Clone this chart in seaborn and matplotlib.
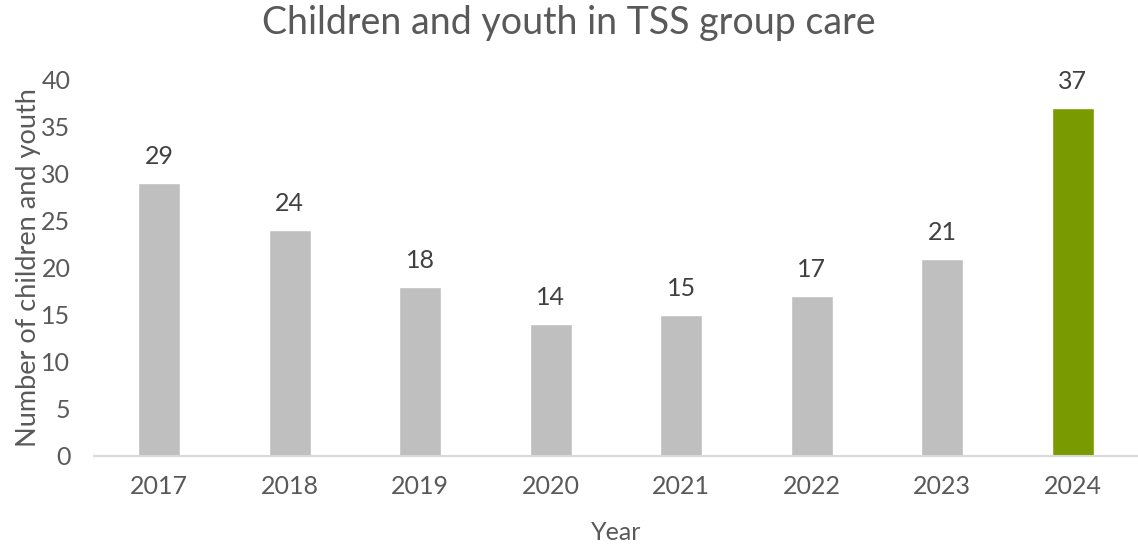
import matplotlib
matplotlib.use("Agg")
import matplotlib.pyplot as plt
import seaborn as sns
import pandas as pd

sns.set_style("white")
plt.rcParams['font.family'] = ['Lato', 'DejaVu Sans']

# ===============================
# Data
# ===============================

years = ["2017", "2018", "2019", "2020", "2021", "2022", "2023", "2024"]
counts = [29, 24, 18, 14, 15, 17, 21, 37]
bar_colors = ["#BFBFBF"] * 7 + ["#7A9A01"]

df = pd.DataFrame({"Year": years, "Count": counts})

text_color = "#595959"

# ===============================
# Plot
# ===============================

fig = plt.figure(figsize=(11.38, 5.44), dpi=100)
ax = fig.add_axes([0.0826, 0.162, 0.9174, 0.691])

sns.barplot(
    x="Year",
    y="Count",
    data=df,
    hue="Year",
    palette=bar_colors,
    legend=False,
    width=0.32,
    saturation=1,
    ax=ax
)

# value labels above bars
for i, v in enumerate(counts):
    ax.annotate(str(v), (i, v), xytext=(0, 19), textcoords="offset points",
                ha="center", va="center", fontsize=18, color="#404040")

ax.set_ylim(0, 40)
ax.set_yticks(range(0, 41, 5))
ax.set_xlim(-0.5, 7.5)

fig.text(0.5, 0.957, "Children and youth in TSS group care", fontsize=27,
         color=text_color, ha="center", va="center")
ax.set_xlabel("Year", fontsize=18, color=text_color, labelpad=16)
ax.set_ylabel("Number of children and youth", fontsize=19.5, color=text_color, labelpad=0)

ax.tick_params(axis="both", labelsize=18, colors=text_color, length=0)
ax.tick_params(axis="x", pad=14)
ax.tick_params(axis="y", pad=17)

for side in ["top", "right", "left"]:
    ax.spines[side].set_visible(False)
ax.spines["bottom"].set_color("#D9D9D9")
ax.spines["bottom"].set_linewidth(1.5)

plt.savefig("out.png", dpi=100)
